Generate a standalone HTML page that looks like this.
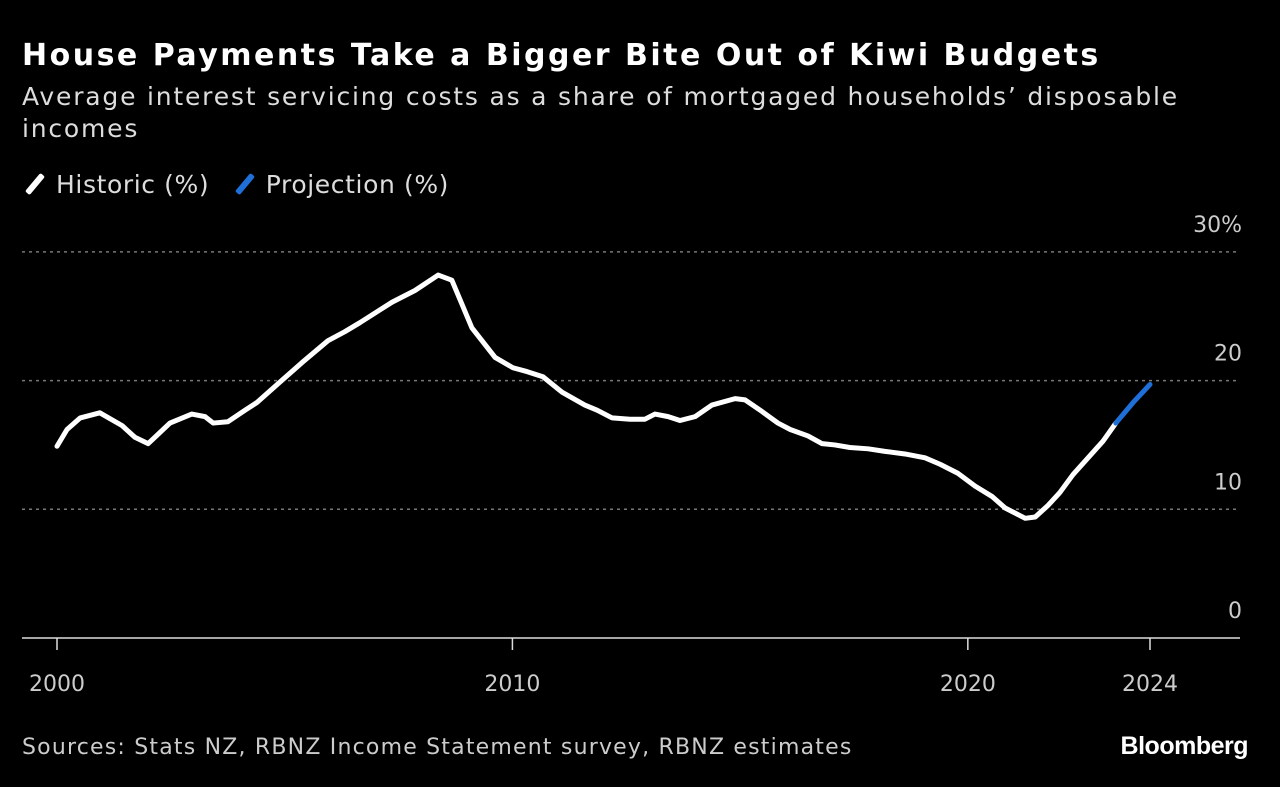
<!DOCTYPE html>
<html><head><meta charset="utf-8"><style>
body{margin:0;background:#000;width:1280px;height:787px;overflow:hidden;font-family:"DejaVu Sans","Liberation Sans",sans-serif;color:#ddd}
#title{position:absolute;left:22px;top:38px;font-size:30px;font-weight:bold;color:#fff;margin:0;letter-spacing:2.5px;white-space:nowrap}
#sub{position:absolute;left:22px;top:81px;font-size:25px;line-height:32px;color:#ddd;width:1230px;letter-spacing:1.8px}
#legend{position:absolute;left:22px;top:170px;font-size:25px;color:#ddd;letter-spacing:0.6px}
.li{display:inline-block;margin-right:14px}
.sw{display:inline-block;width:6px;height:24px;transform:rotate(40deg);vertical-align:-3px;margin:0 18px 0 10px;border-radius:2px}
#src{position:absolute;left:22px;top:735px;font-size:22px;color:#ccc;letter-spacing:1.2px}
#bb{position:absolute;right:32px;top:732px;font-size:25px;font-weight:bold;color:#fff;letter-spacing:-0.5px;font-family:"Liberation Sans",sans-serif}
svg{position:absolute;left:0;top:0}
</style></head><body>
<h1 id="title">House Payments Take a Bigger Bite Out of Kiwi Budgets</h1>
<div id="sub">Average interest servicing costs as a share of mortgaged households’ disposable incomes</div>
<div id="legend">
<span class="li"><span class="sw" style="background:#fff"></span>Historic (%)</span>
<span class="li"><span class="sw" style="background:#1f6fd8"></span>Projection (%)</span>
</div>
<svg id="chart" width="1280" height="787"></svg>
<div id="src">Sources: Stats NZ, RBNZ Income Statement survey, RBNZ estimates</div>
<div id="bb">Bloomberg</div>
<script>
const histYears=[0,0.22,0.51,0.94,1.43,1.71,2.0,2.48,2.96,3.25,3.43,3.75,4.13,4.39,4.9,5.38,5.95,6.32,6.65,7.36,7.86,8.37,8.67,9.11,9.62,10.01,10.32,10.67,11.09,11.59,11.86,12.19,12.58,12.91,13.13,13.42,13.68,14.01,14.38,14.89,15.11,15.48,15.83,16.1,16.49,16.8,17.08,17.41,17.81,18.18,18.62,19.06,19.39,19.78,20.16,20.53,20.82,21.26,21.48,21.76,22.02,22.31,22.64,22.97,23.25];
const histValues=[14.9,16.2,17.1,17.5,16.5,15.6,15.1,16.7,17.4,17.2,16.7,16.8,17.7,18.3,19.9,21.4,23.1,23.8,24.5,26.1,27.0,28.2,27.8,24.1,21.8,21.0,20.7,20.3,19.1,18.1,17.7,17.1,17.0,17.0,17.4,17.2,16.9,17.2,18.1,18.6,18.5,17.6,16.7,16.2,15.7,15.1,15.0,14.8,14.7,14.5,14.3,14.0,13.5,12.8,11.8,11.0,10.1,9.3,9.4,10.3,11.3,12.7,14.0,15.3,16.7];
const projYears=[23.25,23.63,24.0];
const projValues=[16.7,18.3,19.7];
const yTicks=[0,10,20,30];
const yTickLabels=["0","10","20","30%"];
const xTicks=[0,10,20,24];
const xTickLabels=["2000","2010","2020","2024"];
const NS="http://www.w3.org/2000/svg";
const svg=document.getElementById('chart');
const X=v=>57+v*(1150-57)/24;
const Y=v=>638-v*12.87;
function mk(t,a){const e=document.createElementNS(NS,t);for(const k in a)e.setAttribute(k,a[k]);svg.appendChild(e);return e;}
yTicks.forEach((v,i)=>{
 if(v>0){const g=mk('line',{x1:22,x2:1240,y1:Y(v),y2:Y(v),stroke:'#777','stroke-width':1.5,'stroke-dasharray':'3,4'});
 
 }
 const t=mk('text',{x:1242,y:Y(v)-20,'text-anchor':'end','font-size':22,fill:'#ccc','font-family':'DejaVu Sans, sans-serif'});
 t.textContent=yTickLabels[i];
 
 
});
const ax=mk('line',{x1:22,x2:1240,y1:638,y2:638,stroke:'#ddd','stroke-width':1.5});


xTicks.forEach((v,i)=>{
 const tk=mk('line',{x1:X(v),x2:X(v),y1:638,y2:650,stroke:'#ddd','stroke-width':1.5});
 
 
 const t=mk('text',{x:X(v),y:691,'text-anchor':'middle','font-size':22,fill:'#ccc','font-family':'DejaVu Sans, sans-serif'});
 t.textContent=xTickLabels[i];
 
 
});
const hp=mk('polyline',{points:histYears.map((y,i)=>X(y)+','+Y(histValues[i])).join(' '),fill:'none',stroke:'#fff','stroke-width':5,'stroke-linejoin':'round','stroke-linecap':'round'});


const pp=mk('polyline',{points:projYears.map((y,i)=>X(y)+','+Y(projValues[i])).join(' '),fill:'none',stroke:'#1f6fd8','stroke-width':5,'stroke-linejoin':'round','stroke-linecap':'round'});


</script>
</body></html>
